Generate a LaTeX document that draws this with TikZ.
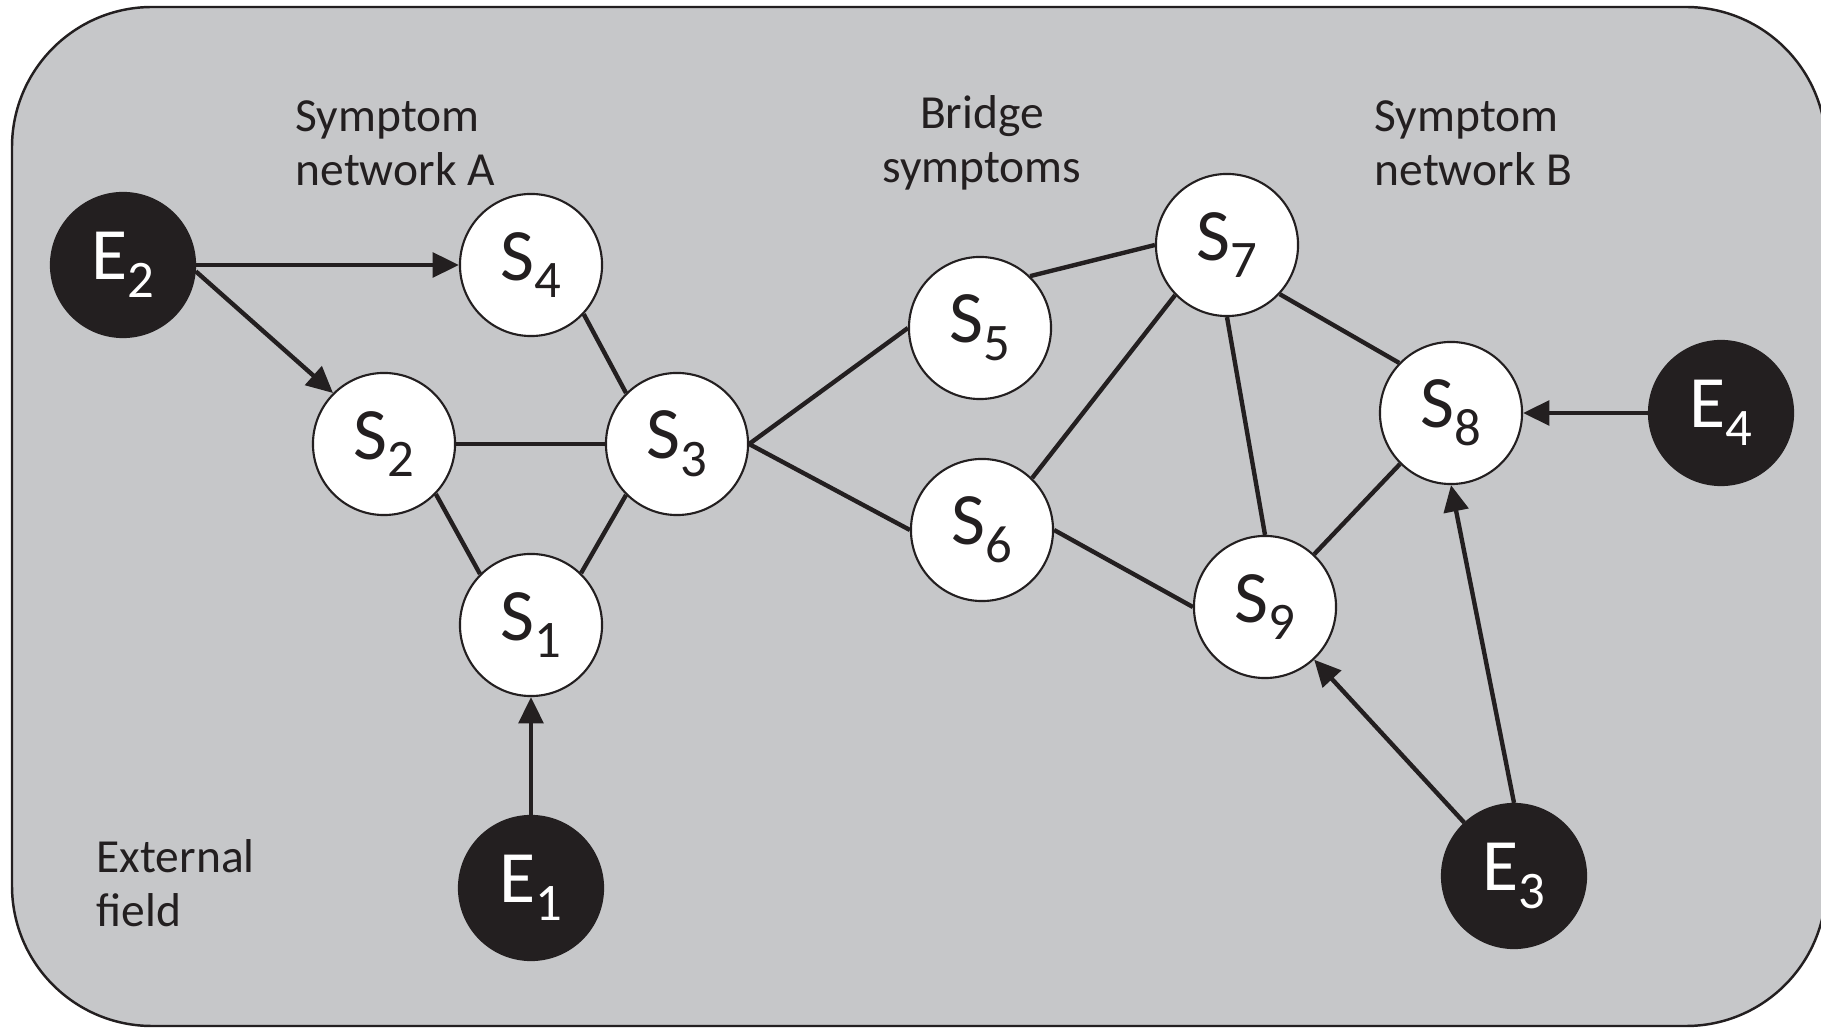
\documentclass[tikz,border=0pt]{standalone}
\usepackage{fontspec}
\setmainfont{Carlito}
\usetikzlibrary{arrows.meta}
\definecolor{bg}{RGB}{198,199,201}
\definecolor{ink}{RGB}{35,31,32}
\newcommand{\nlab}[2]{#1\raisebox{-0.24em}{\fontsize{15}{15}\selectfont #2}}
\begin{document}
\begin{tikzpicture}[x=0.01cm,y=-0.01cm,
  sym/.style={circle,draw=ink,line width=0.6pt,fill=white,minimum size=1.42cm,inner sep=0pt,text=ink,font=\fontsize{21}{21}\selectfont},
  ext/.style={circle,draw=ink,line width=0.6pt,fill=ink,minimum size=1.44cm,inner sep=0pt,text=white,font=\fontsize{21}{21}\selectfont},
  link/.style={draw=ink,line width=1.25pt},
  arr/.style={link,-{Triangle[length=7.5pt,width=7pt]}},
  lab/.style={text=ink,font=\fontsize{13.5}{15.3}\selectfont,inner sep=0pt}
]
\useasboundingbox (0,0) rectangle (1821,1028);
\begin{scope}
\clip (0,0) rectangle (1821,1028);
\draw[fill=bg,draw=ink,line width=0.7pt,rounded corners=1.4cm] (12,7) rectangle (1826,1026);
\end{scope}

% labels
\node[lab,anchor=west,align=left] (labA) at (295,143) {Symptom\\network A};
\node[lab,align=center] (labBr) at (982,143) {Bridge\\symptoms};
\node[lab,anchor=west,align=left] (labB) at (1374,143) {Symptom\\network B};
\node[lab,anchor=west,align=left] (labE) at (96,883) {External\\field};

% symptom nodes
\node[sym] (S1) at (531,625) {\nlab{S}{1}};
\node[sym] (S2) at (384,444) {\nlab{S}{2}};
\node[sym] (S3) at (677,444) {\nlab{S}{3}};
\node[sym] (S4) at (531,265) {\nlab{S}{4}};
\node[sym] (S5) at (980,328) {\nlab{S}{5}};
\node[sym] (S6) at (982,530) {\nlab{S}{6}};
\node[sym] (S7) at (1227,245) {\nlab{S}{7}};
\node[sym] (S8) at (1451,413) {\nlab{S}{8}};
\node[sym] (S9) at (1265,607) {\nlab{S}{9}};

% external nodes
\node[ext] (E1) at (531,888) {\nlab{E}{1}};
\node[ext] (E2) at (123,265) {\nlab{E}{2}};
\node[ext] (E3) at (1514,876) {\nlab{E}{3}};
\node[ext] (E4) at (1721,413) {\nlab{E}{4}};

% undirected links
\draw[link] (S4.-43) -- (S3.135);
\draw[link] (S2.east) -- (S3.west);
\draw[link] (S2.-44) -- (S1.135);
\draw[link] (S1.46) -- (S3.-135);
\draw[link] (S3.east) -- (S5.west);
\draw[link] (S3.east) -- (S6.west);
\draw[link] (S5.46) -- (S7.west);
\draw[link] (S6.46) -- (S7.-136);
\draw[link] (S7.south) -- (S9.north);
\draw[link] (S7.-43) -- (S8.136);
\draw[link] (S6.east) -- (S9.west);
\draw[link] (S9.47) -- (S8.-135);

% external arrows
\draw[arr] (E2.east) -- (S4.west);
\draw[arr] (E2.-5) -- (S2.135);
\draw[arr] (E1.north) -- (S1.south);
\draw[arr] (E3.133) -- (S9.-47);
\draw[arr] (E3.north) -- (S8.south);
\draw[arr] (E4.west) -- (S8.east);
\end{tikzpicture}
\end{document}
